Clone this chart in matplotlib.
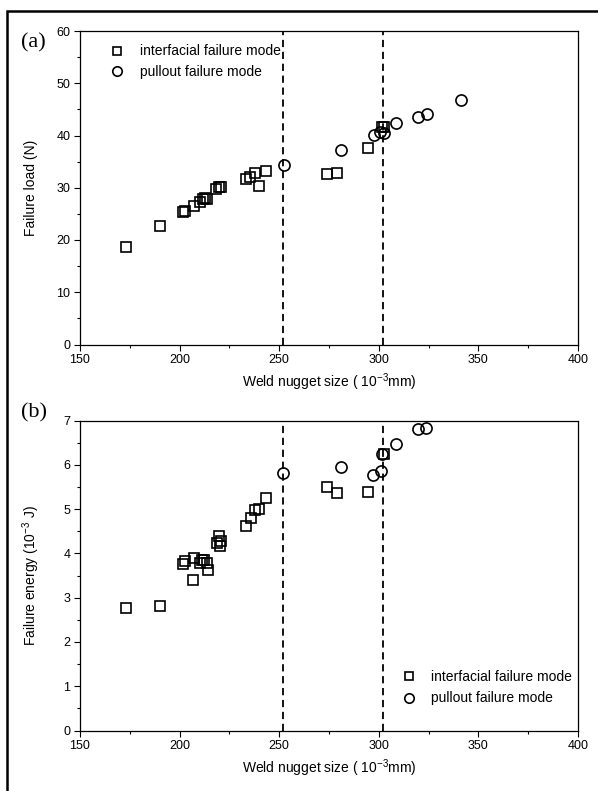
import matplotlib
matplotlib.use('Agg')
import matplotlib.pyplot as plt
from matplotlib.ticker import MultipleLocator
from matplotlib.patches import Rectangle

plt.rcParams['font.family'] = ['Liberation Sans', 'DejaVu Sans']
plt.rcParams['mathtext.fontset'] = 'custom'
plt.rcParams['mathtext.rm'] = 'Liberation Sans'
plt.rcParams['mathtext.it'] = 'Liberation Sans:italic'
plt.rcParams['mathtext.bf'] = 'Liberation Sans:bold'

# ---------------- data ----------------
# (a) failure load
load_int_x = [172.9, 190.3, 201.7, 202.7, 207.1, 210.2, 211.9, 212.9, 213.6,
              218.4, 219.9, 220.8, 233.2, 235.5, 238.0, 240.0, 243.2,
              274.0, 279.2, 294.6, 301.8, 302.4]
load_int_y = [18.6, 22.6, 25.3, 25.5, 26.5, 27.3, 27.9, 28.1, 27.8,
              29.8, 30.2, 30.2, 31.6, 32.1, 32.9, 30.3, 33.3,
              32.6, 32.8, 37.6, 41.6, 41.6]
load_pull_x = [252.4, 281.0, 297.4, 300.4, 302.4, 308.8, 319.8, 324.0, 341.1]
load_pull_y = [34.3, 37.3, 40.1, 40.6, 40.5, 42.3, 43.6, 44.1, 46.8]

# (b) failure energy
energy_int_x = [172.9, 190.3, 201.7, 202.9, 206.9, 207.1, 210.2, 211.1, 212.1,
                213.6, 214.1, 218.6, 219.6, 220.4, 220.6, 233.3, 235.7, 238.0,
                240.0, 243.2, 274.0, 279.2, 294.6, 302.8]
energy_int_y = [2.76, 2.82, 3.76, 3.82, 3.39, 3.90, 3.78, 3.85, 3.85,
                3.78, 3.63, 4.23, 4.40, 4.17, 4.28, 4.62, 4.79, 4.97,
                5.01, 5.25, 5.49, 5.36, 5.39, 6.25]
energy_pull_x = [252.0, 280.9, 297.2, 301.1, 301.6, 308.5, 319.7, 323.9]
energy_pull_y = [5.81, 5.94, 5.77, 5.86, 6.24, 6.48, 6.81, 6.83]

boundaries = [252, 302]
labels = ['interfacial failure mode', 'pullout failure mode']
x_ticks = [150, 200, 250, 300, 350, 400]

# ---------------- figure ----------------
W, H = 598, 791
fig = plt.figure(figsize=(W / 100, H / 100), dpi=100)


def rect(l, t, r, b):
    return [l / W, 1 - b / H, (r - l) / W, (b - t) / H]


ax1 = fig.add_axes(rect(80, 31, 578, 344.5))
ax2 = fig.add_axes(rect(80, 420.5, 578, 730.5))

# outer frame
fig.patches.append(Rectangle((6.5 / W, -0.02), 1.1, 1 - 11 / H + 0.02,
                             transform=fig.transFigure, fill=False,
                             lw=1.8, ec='black', clip_on=False))

mk = dict(linestyle='none', markerfacecolor='none', markeredgecolor='black',
          markeredgewidth=1.2)


def style(ax, ymax, ymajor, yminor):
    ax.set_xlim(150, 400)
    ax.set_ylim(0, ymax)
    ax.set_xticks(x_ticks)
    ax.xaxis.set_minor_locator(MultipleLocator(25))
    ax.yaxis.set_major_locator(MultipleLocator(ymajor))
    ax.yaxis.set_minor_locator(MultipleLocator(yminor))
    ax.tick_params(which='major', direction='out', length=4.5, width=0.8,
                   labelsize=9, pad=2.5, top=False, right=False)
    ax.tick_params(which='minor', direction='out', length=2.5, width=0.8,
                   top=False, right=False)
    for s in ax.spines.values():
        s.set_linewidth(0.9)
    for b in boundaries:
        ax.axvline(b, color='black', lw=1.3, dashes=(4, 2.6))
    ax.set_xlabel(r'Weld nugget size ( 10$^{-3}$mm)', fontsize=10, labelpad=4)


style(ax1, 60, 10, 5)
ax1.plot(load_int_x, load_int_y, marker='s', markersize=7, label=labels[0], **mk)
ax1.plot(load_pull_x, load_pull_y, marker='o', markersize=8, label=labels[1], **mk)
ax1.set_ylabel('Failure load (N)', fontsize=10, labelpad=13)
ax1.legend(loc='upper left', bbox_to_anchor=(0.061, 0.957), frameon=False,
           fontsize=10, borderpad=0, borderaxespad=0, handlelength=1.0,
           handletextpad=1.15, labelspacing=0.45, markerscale=0.85)

style(ax2, 7, 1, 0.5)
ax2.plot(energy_int_x, energy_int_y, marker='s', markersize=7, label=labels[0], **mk)
ax2.plot(energy_pull_x, energy_pull_y, marker='o', markersize=8, label=labels[1], **mk)
ax2.set_ylabel(r'Failure energy (10$^{-3}$ J)', fontsize=10, labelpad=15)
ax2.legend(loc='upper left', bbox_to_anchor=(0.647, 0.196), frameon=False,
           fontsize=10, borderpad=0, borderaxespad=0, handlelength=1.0,
           handletextpad=1.05, labelspacing=0.55, markerscale=0.85)

fig.text(21 / W, 1 - 43 / H, '(a)', fontsize=16, family='Liberation Serif',
         va='center', ha='left')
fig.text(21 / W, 1 - 413 / H, '(b)', fontsize=16, family='Liberation Serif',
         va='center', ha='left')

fig.savefig('out.png', dpi=100)
